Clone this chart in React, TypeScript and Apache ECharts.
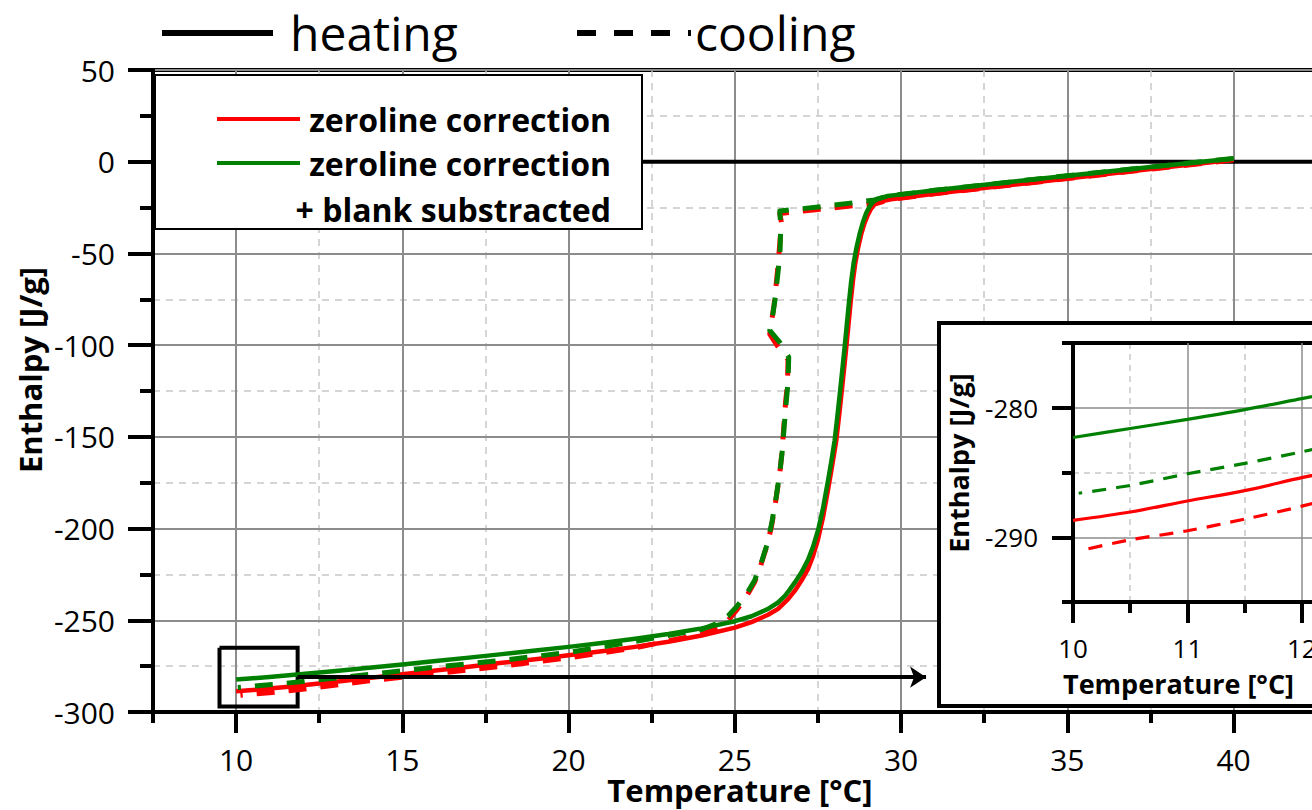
import React, { useEffect, useRef } from 'react';
import * as echarts from 'echarts';

const FONT = '"Open Sans", "DejaVu Sans", sans-serif';

// ---- axis ticks ----
const X_MIN = 7.5;
const X_MAX = 45;
const X_MINOR_STEP = 2.5;
const X_MAJOR = [10, 15, 20, 25, 30, 35, 40, 45];
const Y_MIN = -300;
const Y_MAX = 50;
const Y_STEP = 50;

const INSET_X_MIN = 10;
const INSET_X_MAX = 12.5;
const INSET_X_MAJOR = [10, 11, 12];
const INSET_X_MINOR = [10.5, 11.5, 12.5];
const INSET_Y_MIN = -295;
const INSET_Y_MAX = -275;
const INSET_Y_MAJOR = [-290, -280];
const INSET_Y_MINOR = [-295, -285, -275];

// ---- data: heating, zeroline correction (red solid) ----
const HEAT_RED_T = [10, 10.5, 11, 11.5, 12, 13, 14, 15, 16, 17, 18, 19, 20, 21, 22, 23, 24, 25, 25.5, 26, 26.3, 26.6, 26.8, 27.0, 27.2, 27.35, 27.5, 27.65, 27.8, 27.9, 28.05, 28.15, 28.25, 28.33, 28.4, 28.48, 28.55, 28.62, 28.7, 28.8, 28.9, 29.0, 29.1, 29.2, 29.4, 29.7, 30, 31, 33, 35, 37.5, 40];
const HEAT_RED_H = [-288.7, -288.05, -287.2, -286.4, -285.4, -283.5, -281.5, -279.45, -277.4, -275.3, -273.2, -271.2, -269.1, -266.9, -264.5, -261.7, -258.3, -254, -251, -247, -243.8, -238.5, -234, -228.5, -222, -215, -206, -194, -179, -168.5, -152, -136, -119, -105, -92, -77, -65, -55.5, -47.5, -39.5, -33.5, -29, -25.5, -23.3, -21.6, -20.5, -19.8, -17.5, -13.3, -9.2, -4.0, 1.0];

// ---- data: heating, zeroline correction + blank substracted (green solid) ----
const HEAT_GREEN_T = [10, 10.5, 11, 11.5, 12, 13, 14, 15, 16, 17, 18, 19, 20, 21, 22, 23, 24, 25, 25.5, 26, 26.3, 26.5, 26.65, 26.8, 27.0, 27.2, 27.35, 27.5, 27.65, 27.8, 27.9, 28.0, 28.1, 28.2, 28.28, 28.35, 28.43, 28.5, 28.57, 28.65, 28.75, 28.85, 28.95, 29.05, 29.15, 29.3, 29.6, 30, 31, 33, 35, 37.5, 40];
const HEAT_GREEN_H = [-282.3, -281.6, -280.9, -280.15, -279.3, -277.6, -275.85, -274.05, -272.2, -270.35, -268.45, -266.5, -264.5, -262.4, -260.1, -257.5, -254.4, -250.5, -247.8, -243.8, -240.3, -236.8, -233.3, -229.5, -224, -217, -210, -201, -189, -174, -163.5, -152, -136, -119, -105, -92, -77, -65, -55.5, -47.5, -39.5, -33, -28, -24.5, -22, -20.3, -18.7, -17.8, -15.6, -11.6, -7.6, -2.9, 1.8];

// ---- data: cooling, zeroline correction (red dashed), in measuring order ----
const COOL_RED_T = [40, 35, 31, 29.7, 29.3, 28.8, 27.5, 26.35, 26.4, 26.35, 26.28, 26.18, 26.08, 26.05, 26.3, 26.6, 26.58, 26.53, 26.47, 26.42, 26.35, 26.22, 26.1, 25.97, 25.78, 25.6, 25.35, 25.05, 24.8, 24.5, 24, 22, 20, 18, 16, 14, 12, 11.5, 11, 10.5, 10.13];
const COOL_RED_H = [1.0, -9.2, -17.5, -20.5, -22.5, -23.6, -26, -28.2, -33, -45, -60, -78, -90, -94, -101, -108, -122, -130, -145, -158, -170, -186, -199, -209, -220, -229, -237, -244.5, -250, -254, -257.5, -265, -270.5, -275, -279, -283, -287.6, -288.6, -289.5, -290.2, -290.9];

// ---- data: cooling, zeroline correction + blank substracted (green dashed) ----
const COOL_GREEN_T = [40, 35, 31, 29.6, 29.2, 28.6, 27.5, 26.35, 26.38, 26.36, 26.3, 26.2, 26.12, 26.05, 26.35, 26.62, 26.6, 26.54, 26.48, 26.43, 26.36, 26.25, 26.12, 25.98, 25.78, 25.6, 25.36, 25.06, 24.8, 24.5, 24, 22, 20, 18, 16, 14, 12, 11.5, 11, 10.5, 10.05];
const COOL_GREEN_H = [1.8, -7.6, -15.6, -18.7, -20.8, -22.3, -24.7, -26.9, -35, -48, -60, -76, -86, -92, -98.5, -106.5, -120, -132, -145, -157, -168, -182, -196, -208, -219.5, -228, -235.5, -242.5, -247.5, -251.5, -255, -261.5, -267.5, -271.8, -275.5, -279.5, -283.4, -284.3, -285.1, -286.0, -286.6];

// ---- annotations in data space ----
const ZERO_T = [7.5, 45];
const ZERO_H = [0, 0];
const BOX_T = [9.5, 11.85, 11.85, 9.5, 9.5];
const BOX_H = [-265, -265, -297, -297, -265];
const ARROW_T = [11.85, 30.75];
const ARROW_H = -281;

const RED = '#ff0000';
const GREEN = '#008000';
const GRID_SOLID = '#8c8c8c';
const GRID_DASH = '#c8c8c8';

function pairs(t: number[], h: number[]) {
  return t.map((v, i) => [v, h[i]]);
}

function buildOption() {
  const tickStyle = { color: '#000', width: 4 };
  const labelStyle = (size: number, margin: number) => ({
    fontSize: size,
    fontFamily: FONT,
    color: '#000',
    margin,
  });

  const mainLine = (name: string, t: number[], h: number[], color: string, dashed: boolean) => ({
    name,
    type: 'line',
    xAxisIndex: 0,
    yAxisIndex: 0,
    data: pairs(t, h),
    showSymbol: false,
    symbol: 'none',
    smooth: false,
    lineStyle: { color, width: dashed ? 5 : 4.5, type: dashed ? [18, 14] : 'solid', join: 'round' },
    z: 2,
    silent: true,
  });

  const insetLine = (name: string, t: number[], h: number[], color: string, dashed: boolean) => ({
    name: name + ' (inset)',
    type: 'line',
    xAxisIndex: 2,
    yAxisIndex: 1,
    data: pairs(t, h),
    showSymbol: false,
    symbol: 'none',
    smooth: 0.3,
    clip: true,
    lineStyle: { color, width: 3.2, type: dashed ? [14, 10] : 'solid' },
    z: 7,
    silent: true,
  });

  const text = (
    str: string,
    x: number,
    y: number,
    size: number,
    bold: boolean,
    align: string,
    z: number,
    rotation = 0
  ) => ({
    type: 'text',
    x,
    y,
    z,
    rotation,
    silent: true,
    style: {
      text: str,
      fontSize: size,
      fontWeight: bold ? 'bold' : 'normal',
      fontFamily: FONT,
      fill: '#000',
      align,
      verticalAlign: 'middle',
    },
  });

  return {
    animation: false,
    backgroundColor: '#fff',
    grid: [
      { left: 153, top: 70, width: 1257, height: 642, show: true, borderColor: '#000', borderWidth: 4, backgroundColor: 'transparent', z: 0 },
      { left: 1073, top: 343, width: 286, height: 259, show: true, borderColor: '#000', borderWidth: 4, backgroundColor: 'transparent', z: 6 },
    ],
    xAxis: [
      {
        type: 'value', gridIndex: 0, min: X_MIN, max: X_MAX, position: 'bottom', z: 1,
        axisLine: { show: true, onZero: false, lineStyle: tickStyle },
        axisTick: { show: true, customValues: X_MAJOR, length: 21, lineStyle: tickStyle },
        axisLabel: { customValues: X_MAJOR, ...labelStyle(30, 32) },
        splitLine: { show: true, lineStyle: { color: GRID_SOLID, width: 2 } },
      },
      {
        type: 'value', gridIndex: 0, min: X_MIN, max: X_MAX, interval: X_MINOR_STEP, position: 'bottom', z: 0,
        axisLine: { show: false, onZero: false },
        axisTick: { show: true, length: 11, lineStyle: tickStyle },
        axisLabel: { show: false },
        splitLine: { show: true, lineStyle: { color: GRID_DASH, width: 1.5, type: [7, 6] } },
      },
      {
        type: 'value', gridIndex: 1, min: INSET_X_MIN, max: INSET_X_MAX, position: 'bottom', z: 6,
        axisLine: { show: true, onZero: false, lineStyle: tickStyle },
        axisTick: { show: true, customValues: INSET_X_MAJOR, length: 21, lineStyle: tickStyle },
        axisLabel: { customValues: INSET_X_MAJOR, ...labelStyle(26, 33) },
        splitLine: { show: true, lineStyle: { color: GRID_SOLID, width: 1.5 } },
      },
      {
        type: 'value', gridIndex: 1, min: INSET_X_MIN, max: INSET_X_MAX, position: 'bottom', z: 5,
        axisLine: { show: false, onZero: false },
        axisTick: { show: true, customValues: INSET_X_MINOR, length: 11, lineStyle: tickStyle },
        axisLabel: { show: false, customValues: INSET_X_MINOR },
        splitLine: { show: true, lineStyle: { color: GRID_DASH, width: 1.5, type: [6, 5] } },
      },
    ],
    yAxis: [
      {
        type: 'value', gridIndex: 0, min: Y_MIN, max: Y_MAX, interval: Y_STEP, position: 'left', z: 1,
        axisLine: { show: true, onZero: false, lineStyle: tickStyle },
        axisTick: { show: true, length: 25, lineStyle: tickStyle },
        axisLabel: labelStyle(30, 38),
        splitLine: { show: true, lineStyle: { color: GRID_SOLID, width: 2 } },
        minorTick: { show: true, splitNumber: 2, length: 13, lineStyle: tickStyle },
        minorSplitLine: { show: true, lineStyle: { color: GRID_DASH, width: 1.5, type: [7, 6] } },
      },
      {
        type: 'value', gridIndex: 1, min: INSET_Y_MIN, max: INSET_Y_MAX, position: 'left', z: 6,
        axisLine: { show: true, onZero: false, lineStyle: tickStyle },
        axisTick: { show: true, customValues: INSET_Y_MAJOR, length: 21, lineStyle: tickStyle },
        axisLabel: { customValues: INSET_Y_MAJOR, ...labelStyle(26, 35) },
        splitLine: { show: true, lineStyle: { color: GRID_SOLID, width: 1.5 } },
      },
      {
        type: 'value', gridIndex: 1, min: INSET_Y_MIN, max: INSET_Y_MAX, position: 'left', z: 5,
        axisLine: { show: false, onZero: false },
        axisTick: { show: true, customValues: INSET_Y_MINOR, length: 11, lineStyle: tickStyle },
        axisLabel: { show: false, customValues: INSET_Y_MINOR },
        splitLine: { show: true, lineStyle: { color: GRID_DASH, width: 1.5, type: [6, 5] } },
      },
    ],
    series: [
      {
        name: 'zero', type: 'line', xAxisIndex: 0, yAxisIndex: 0, data: pairs(ZERO_T, ZERO_H),
        symbol: 'none', lineStyle: { color: '#000', width: 4 }, z: 2, silent: true,
      },
      {
        name: 'zoom box', type: 'line', xAxisIndex: 0, yAxisIndex: 0, data: pairs(BOX_T, BOX_H),
        symbol: 'none', lineStyle: { color: '#000', width: 4, join: 'miter' }, z: 2, silent: true,
        markLine: {
          silent: true,
          symbol: ['none', 'arrow'],
          symbolSize: [16, 16],
          label: { show: false },
          lineStyle: { color: '#000', width: 4, type: 'solid' },
          data: [[{ coord: [ARROW_T[0], ARROW_H] }, { coord: [ARROW_T[1], ARROW_H] }]],
        },
      },
      mainLine('heating zeroline correction', HEAT_RED_T, HEAT_RED_H, RED, false),
      mainLine('cooling zeroline correction', COOL_RED_T, COOL_RED_H, RED, true),
      mainLine('heating zeroline correction + blank substracted', HEAT_GREEN_T, HEAT_GREEN_H, GREEN, false),
      mainLine('cooling zeroline correction + blank substracted', COOL_GREEN_T, COOL_GREEN_H, GREEN, true),
      insetLine('heating zeroline correction', HEAT_RED_T, HEAT_RED_H, RED, false),
      insetLine('cooling zeroline correction', COOL_RED_T, COOL_RED_H, RED, true),
      insetLine('heating zeroline correction + blank substracted', HEAT_GREEN_T, HEAT_GREEN_H, GREEN, false),
      insetLine('cooling zeroline correction + blank substracted', COOL_GREEN_T, COOL_GREEN_H, GREEN, true),
    ],
    graphic: [
      // legend box
      { type: 'rect', z: 10, silent: true, shape: { x: 155, y: 75, width: 487, height: 154 }, style: { fill: '#fff', stroke: '#000', lineWidth: 2 } },
      { type: 'line', z: 11, silent: true, shape: { x1: 217, y1: 119, x2: 300, y2: 119 }, style: { stroke: RED, lineWidth: 4 } },
      text('zeroline correction', 611, 119, 32, true, 'right', 11),
      { type: 'line', z: 11, silent: true, shape: { x1: 217, y1: 163, x2: 300, y2: 163 }, style: { stroke: GREEN, lineWidth: 4 } },
      text('zeroline correction', 611, 163, 32, true, 'right', 11),
      text('+ blank substracted', 611, 209, 32, true, 'right', 11),
      // top legend
      { type: 'line', z: 11, silent: true, shape: { x1: 162, y1: 33, x2: 273, y2: 33 }, style: { stroke: '#000', lineWidth: 6 } },
      text('heating', 290, 32, 48, false, 'left', 11),
      { type: 'line', z: 11, silent: true, shape: { x1: 577, y1: 33, x2: 691, y2: 33 }, style: { stroke: '#000', lineWidth: 6, lineDash: [19, 18] } },
      text('cooling', 695, 32, 48, false, 'left', 11),
      // axis titles
      text('Temperature [°C]', 740, 790, 31, true, 'center', 11),
      text('Enthalpy [J/g]', 30, 370, 31, true, 'center', 11, Math.PI / 2),
      // inset box
      { type: 'rect', z: 3, silent: true, shape: { x: 939, y: 323, width: 520, height: 383 }, style: { fill: '#fff', stroke: '#000', lineWidth: 4 } },
      text('Temperature [°C]', 1063, 683, 27, true, 'left', 8),
      text('Enthalpy [J/g]', 958, 463, 27, true, 'center', 8, Math.PI / 2),
    ],
  };
}

export default function App() {
  const ref = useRef<HTMLDivElement>(null);
  useEffect(() => {
    if (!ref.current) return;
    const chart = echarts.init(ref.current, null, { renderer: 'svg' });
    chart.setOption(buildOption() as any);
    return () => chart.dispose();
  }, []);
  return (
    <div style={{ position: 'fixed', left: 0, top: 0, width: 1312, height: 810, overflow: 'hidden', background: '#fff' }}>
      <div ref={ref} style={{ width: 1420, height: 810 }} />
    </div>
  );
}
